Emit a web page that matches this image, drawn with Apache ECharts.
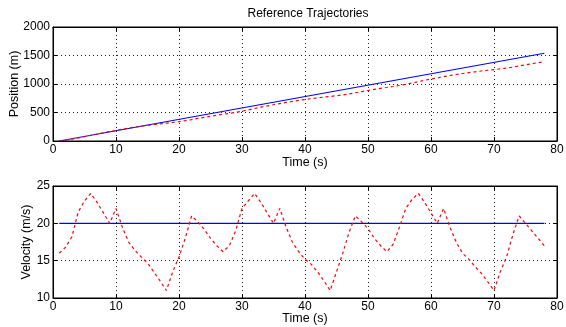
<!DOCTYPE html>
<html>
<head>
<meta charset="utf-8">
<script src="https://cdn.jsdelivr.net/npm/echarts@6/dist/echarts.min.js"></script>
<style>html,body{margin:0;padding:0;background:#fff;}#c{width:566px;height:327px;}</style>
</head>
<body>
<div id="c"></div>
<script>
var titleText = 'Reference Trajectories';
var xName = 'Time (s)';
var posName = 'Position (m)';
var velName = 'Velocity (m/s)';

var timeTicks = [0, 80, 10];
var posTicks = [0, 2000, 500];
var velTicks = [10, 25, 5];

var time = [1,2,3,4,5,6,7,8,9,10,11,12,13,14,15,16,17,18,19,20,21,22,23,24,25,26,27,28,29,30,31,32,33,34,35,36,37,38,39,40,41,42,43,44,45,46,47,48,49,50,51,52,53,54,55,56,57,58,59,60,61,62,63,64,65,66,67,68,69,70,71,72,73,74,75,76,77,78];

var velActual = [16,16.8,18.2,21.5,23,24,22.8,21.4,20,22,
  19.5,17.5,16.4,15.5,14.7,13.5,12.3,11,13.5,15.5,
  18,21,20.2,19.2,18,17,16.2,17,19,22,
  23,24,22.8,21.4,20,22,19.5,17.5,16.2,15.2,
  14.5,13.5,12.3,11,13.5,16,18.8,21,20.2,19.3,
  18,17,16.2,17.2,19.5,22,23.2,24,22.8,21.4,
  20,22,19.5,17.5,16,15.2,14.2,13.3,12.2,11,
  13.5,15.5,18.5,21,20,19,18,17];

var posActual = [0,16.5,34,54,76,99.5,123,145,165.5,186.5,
  207,226,243,259,274,288,301,312,325,339,
  356,375,396,416,434,452,468,485,503,524,
  546,570,593,615,636,657,677,696,713,728,
  743,757,770,782,794,809,826,846,867,886,
  905,923,939,956,974,995,1018,1041,1065,1087,
  1107,1128,1149,1167,1184,1200,1214,1228,1241,1253,
  1265,1279,1296,1316,1337,1356,1375,1392];

var refTime = [1, 78];
var posRef = [0, 1540];
var velRef = [20, 20];

function pairs(xs, ys){ var o=[]; for(var i=0;i<xs.length;i++) o.push([xs[i], ys[i]]); return o; }

var FONT = '"Liberation Sans", Arial, Helvetica, sans-serif';
var grids = [
  {left: 53, right: 9, top: 27, height: 114, show: true, borderColor: '#000', borderWidth: 1, backgroundColor: '#fff', containLabel: false, outerBoundsMode: 'none'},
  {left: 53, right: 9, top: 186, height: 112, show: true, borderColor: '#000', borderWidth: 1, backgroundColor: '#fff', containLabel: false, outerBoundsMode: 'none'}
];
function plain(v){ return String(v); }

function xAx(g, main, gap){
  return {
    gridIndex: g, type: 'value', min: timeTicks[0], max: timeTicks[1], interval: timeTicks[2],
    position: main ? 'bottom' : 'top',
    name: main ? xName : '', nameLocation: 'middle', nameGap: gap, nameMoveOverlap: false,
    nameTextStyle: {color: '#000', fontSize: 12.5, fontFamily: FONT},
    axisLine: {show: true, onZero: false, lineStyle: {color: '#000', width: 1}},
    axisTick: {show: true, inside: true, length: 4, lineStyle: {color: '#000'}},
    axisLabel: {show: main, color: '#000', fontSize: 12, fontFamily: FONT, margin: 3, formatter: plain},
    splitLine: {show: main, lineStyle: {color: '#222', width: 1, type: [1, 3]}}
  };
}
function yAx(g, ticks, main, name, gap){
  return {
    gridIndex: g, type: 'value', min: ticks[0], max: ticks[1], interval: ticks[2],
    position: main ? 'left' : 'right',
    name: main ? name : '', nameLocation: 'middle', nameGap: gap, nameMoveOverlap: false,
    nameTextStyle: {color: '#000', fontSize: 12.5, fontFamily: FONT},
    axisLine: {show: true, onZero: false, lineStyle: {color: '#000', width: 1}},
    axisTick: {show: true, inside: true, length: 4, lineStyle: {color: '#000'}},
    axisLabel: {show: main, color: '#000', fontSize: 12, fontFamily: FONT, margin: 3, formatter: plain},
    splitLine: {show: main, lineStyle: {color: '#222', width: 1, type: [1, 3]}}
  };
}

var chart = echarts.init(document.getElementById('c'), null, {renderer: 'canvas'});
chart.setOption({
  animation: false,
  backgroundColor: '#fff',
  graphic: [{type: 'text', x: 308, y: 14, style: {text: titleText, fill: '#000', font: '12px ' + FONT, textAlign: 'center', textVerticalAlign: 'middle'}}],
  grid: grids,
  xAxis: [xAx(0, true, 15), xAx(0, false, 0), xAx(1, true, 14), xAx(1, false, 0)],
  yAxis: [yAx(0, posTicks, true, posName, 32), yAx(0, posTicks, false, '', 0), yAx(1, velTicks, true, velName, 20), yAx(1, velTicks, false, '', 0)],
  series: [
    {type: 'line', xAxisIndex: 0, yAxisIndex: 0, data: pairs(refTime, posRef), symbol: 'none', lineStyle: {color: '#0000ff', width: 1.2}, z: 3},
    {type: 'line', xAxisIndex: 0, yAxisIndex: 0, data: pairs(time, posActual), symbol: 'none', lineStyle: {color: '#ff0000', width: 1.2, type: [3, 3]}, z: 4},
    {type: 'line', xAxisIndex: 2, yAxisIndex: 2, data: pairs(refTime, velRef), symbol: 'none', lineStyle: {color: '#0000ff', width: 1.2}, z: 3},
    {type: 'line', xAxisIndex: 2, yAxisIndex: 2, data: pairs(time, velActual), symbol: 'none', lineStyle: {color: '#ff0000', width: 1.2, type: [3, 3]}, z: 4}
  ]
});
</script>
</body>
</html>
